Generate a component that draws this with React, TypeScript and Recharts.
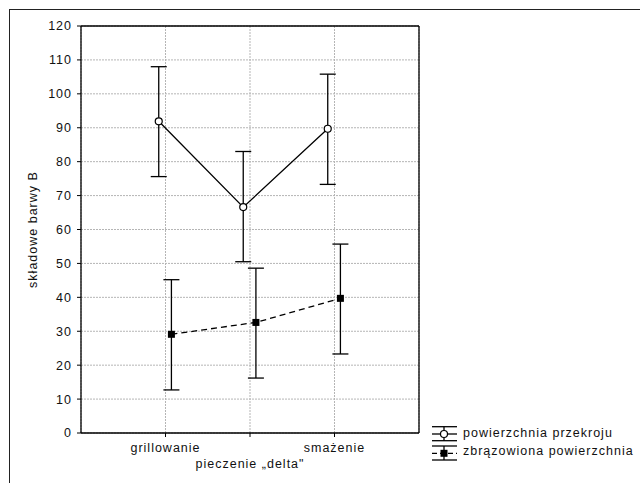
import React from 'react';
import { ComposedChart, Scatter, XAxis, YAxis, CartesianGrid, ErrorBar } from 'recharts';

// kategorie na osi X
const categories = ['grillowanie', 'pieczenie „delta"', 'smażenie'];
const yTicks = [0, 10, 20, 30, 40, 50, 60, 70, 80, 90, 100, 110, 120];

// powierzchnia przekroju
const przekrojMean = [91.9, 66.6, 89.7];
const przekrojErrLow = [16.3, 16.1, 16.4];
const przekrojErrHigh = [16.1, 16.4, 16.1];

// zbrązowiona powierzchnia
const zbrazowionaMean = [29.1, 32.6, 39.7];
const zbrazowionaErrLow = [16.4, 16.4, 16.4];
const zbrazowionaErrHigh = [16.1, 16.0, 16.0];

const seriesNames = ['powierzchnia przekroju', 'zbrązowiona powierzchnia'];

const FONT = '"Liberation Sans", Arial, sans-serif';
const FS = 12.5;
const LS = 1;

const przekrojData = categories.map((c, i) => ({
  x: i + 1 - 0.08,
  y: przekrojMean[i],
  err: [przekrojErrLow[i], przekrojErrHigh[i]],
}));
const zbrazowionaData = categories.map((c, i) => ({
  x: i + 1 + 0.07,
  y: zbrazowionaMean[i],
  err: [zbrazowionaErrLow[i], zbrazowionaErrHigh[i]],
}));

const CategoryTick = (props: any) => {
  const { x, y, payload } = props;
  const idx = Math.round(payload.value) - 1;
  const label = categories[idx] ?? '';
  const extra = idx === 1 ? 16 : 0;
  return (
    <text x={x} y={y + extra} dy="0.71em" textAnchor="middle" fontSize={FS}
      fontFamily={FONT} fill="#111" letterSpacing={LS}>
      {label}
    </text>
  );
};

const CircleShape = (p: any) => (
  <circle cx={p.cx} cy={p.cy} r={3.5} fill="#fff" stroke="#000" strokeWidth={1.2} />
);
const SquareShape = (p: any) => (
  <rect x={p.cx - 3.5} y={p.cy - 3.5} width={7} height={7} fill="#000" />
);

const YTitle = (props: any) => {
  const vb = props.viewBox || { x: 0, y: 27, width: 81, height: 406 };
  const cx = vb.x + 33;
  const cy = vb.y + vb.height / 2;
  return (
    <text x={cx} y={cy} transform={`rotate(-90 ${cx} ${cy})`} textAnchor="middle"
      dominantBaseline="central" fontSize={FS} fontFamily={FONT} fill="#111" letterSpacing={LS}>
      składowe barwy B
    </text>
  );
};

const LegendBox = () => (
  <div style={{ position: 'absolute', left: 431, top: 420, fontFamily: FONT, fontSize: FS, color: '#111' }}>
    <svg width={27} height={45} style={{ position: 'absolute', left: 0, top: 0 }}>
      <g stroke="#000" strokeWidth={1.3}>
        <line x1={1} x2={26} y1={6.7} y2={6.7} />
        <line x1={1} x2={26} y1={14} y2={14} />
        <line x1={1} x2={26} y1={20.7} y2={20.7} />
        <line x1={13} x2={13} y1={6.7} y2={20.7} />
        <line x1={1} x2={26} y1={26} y2={26} />
        <line x1={1} x2={26} y1={33.3} y2={33.3} strokeDasharray="5 3" />
        <line x1={1} x2={26} y1={40} y2={40} />
        <line x1={13} x2={13} y1={26} y2={40} />
      </g>
      <circle cx={13} cy={14} r={3.5} fill="#fff" stroke="#000" strokeWidth={1.2} />
      <rect x={9.5} y={29.8} width={7} height={7} fill="#000" />
    </svg>
    <div style={{ position: 'absolute', left: 32, top: 6, whiteSpace: 'nowrap', letterSpacing: LS }}>{seriesNames[0]}</div>
    <div style={{ position: 'absolute', left: 32, top: 24, whiteSpace: 'nowrap', letterSpacing: LS }}>{seriesNames[1]}</div>
  </div>
);

export default function App() {
  return (
    <div style={{ position: 'absolute', left: 0, top: 0, width: 640, height: 483, overflow: 'hidden', background: '#fff' }}>
      <div style={{
        position: 'absolute', left: 9, top: 9, width: 631, height: 474, boxSizing: 'border-box',
        borderTop: '1.5px solid #222', borderLeft: '1.5px solid #222',
      }} />
      <div style={{ position: 'absolute', left: 0, top: 0 }}>
        <ComposedChart width={640} height={483} margin={{ top: 26, right: 221, bottom: 20, left: 0 }}>
          <CartesianGrid strokeDasharray="2 1" stroke="#b5b5b5" />
          <XAxis dataKey="x" type="number" domain={[0, 4]} ticks={[1, 2, 3]} height={30}
            axisLine={{ stroke: '#000', strokeWidth: 1.3 }} tickLine={{ stroke: '#000' }}
            tickSize={4} tickMargin={6} tick={<CategoryTick />} interval={0} />
          <XAxis xAxisId="top" dataKey="x" orientation="top" type="number" domain={[0, 4]} ticks={[1, 2, 3]}
            height={1} mirror tick={false} tickSize={4} interval={0}
            axisLine={{ stroke: '#000', strokeWidth: 1.3 }} tickLine={{ stroke: '#000' }} />
          <YAxis dataKey="y" type="number" domain={[0, 120]} ticks={yTicks} width={81}
            interval={0} tickSize={4} tickMargin={5}
            axisLine={{ stroke: '#000', strokeWidth: 1.3 }} tickLine={{ stroke: '#000' }}
            tick={{ fontSize: FS, fontFamily: FONT, fill: '#111', letterSpacing: LS }}
            label={{ content: <YTitle /> }} allowDataOverflow />
          <YAxis yAxisId="right" dataKey="y" orientation="right" type="number" domain={[0, 120]} ticks={yTicks}
            width={1} mirror tick={false} tickSize={3} interval={0} allowDataOverflow
            axisLine={{ stroke: '#000', strokeWidth: 1.3 }} tickLine={{ stroke: '#000' }} />
          <Scatter name={seriesNames[0]} data={przekrojData} dataKey="y" isAnimationActive={false}
            line={{ stroke: '#000', strokeWidth: 1.3 }} lineType="joint" shape={<CircleShape />}>
            <ErrorBar dataKey="err" direction="y" width={8} stroke="#000" strokeWidth={1.3} isAnimationActive={false} />
          </Scatter>
          <Scatter name={seriesNames[1]} data={zbrazowionaData} dataKey="y" isAnimationActive={false}
            xAxisId="top" yAxisId="right"
            line={{ stroke: '#000', strokeWidth: 1.3, strokeDasharray: '6 4' }} lineType="joint" shape={<SquareShape />}>
            <ErrorBar dataKey="err" direction="y" width={8} stroke="#000" strokeWidth={1.3} isAnimationActive={false} />
          </Scatter>
        </ComposedChart>
      </div>
      <LegendBox />
    </div>
  );
}
